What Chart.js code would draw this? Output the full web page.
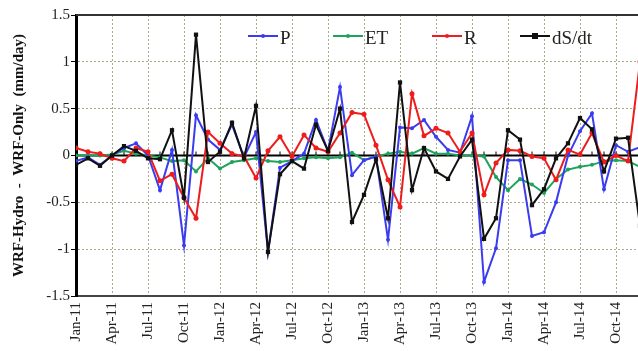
<!DOCTYPE html>
<html>
<head>
<meta charset="utf-8">
<script src="https://cdn.jsdelivr.net/npm/chart.js"></script>
<style>
html,body{margin:0;padding:0;background:#fff;overflow:hidden}
#wrap{width:660px;height:351px}
</style>
</head>
<body>
<div id="wrap"><canvas id="diffChart" width="660" height="351"></canvas></div>
<script>
// quarterly tick labels, one every 3 months starting Jan-11
const quarterLabels = ['Jan-11','Apr-11','Jul-11','Oct-11','Jan-12','Apr-12','Jul-12','Oct-12',
  'Jan-13','Apr-13','Jul-13','Oct-13','Jan-14','Apr-14','Jul-14','Oct-14']

// monthly differences, Jan-11 .. Dec-14 (mm/day)
const P = [-0.06,-0.02,-0.10,0.00,0.08,0.13,0.00,-0.37,0.06,-0.96,0.43,0.17,
  0.06,0.33,-0.02,0.25,-1.03,-0.13,-0.06,0.02,0.38,0.05,0.73,-0.21,
  -0.05,-0.01,-0.90,0.30,0.29,0.38,0.20,0.06,0.03,0.42,-1.35,-0.99,
  -0.05,-0.05,-0.86,-0.82,-0.50,0.00,0.26,0.45,-0.36,0.11,0.04,0.09]
const ET = [0.00,0.00,0.00,0.01,0.05,0.02,0.00,-0.02,-0.06,-0.05,-0.17,-0.03,
  -0.14,-0.07,-0.05,-0.03,-0.06,-0.07,-0.05,-0.03,-0.02,-0.03,-0.02,0.03,
  -0.05,-0.01,0.02,0.04,0.02,0.08,0.02,0.02,0.00,0.00,-0.01,-0.23,
  -0.37,-0.25,-0.31,-0.40,-0.25,-0.15,-0.12,-0.10,-0.06,-0.05,-0.06,-0.12]
const R = [0.08,0.04,0.02,-0.03,-0.06,0.08,0.04,-0.27,-0.20,-0.45,-0.67,0.25,
  0.13,0.02,-0.01,-0.24,0.05,0.20,-0.01,0.22,0.08,0.04,0.24,0.46,
  0.44,0.11,-0.26,-0.55,0.66,0.21,0.29,0.24,0.04,0.24,-0.42,-0.08,
  0.06,0.05,-0.01,-0.03,-0.26,0.06,0.01,0.24,-0.07,0.00,-0.06,1.00]
const dSdt = [-0.10,-0.03,-0.11,0.00,0.10,0.05,-0.03,-0.04,0.27,-0.45,1.29,-0.07,
  0.04,0.35,-0.03,0.53,-1.03,-0.20,-0.06,-0.14,0.33,0.05,0.50,-0.71,
  -0.42,-0.04,-0.67,0.78,-0.37,0.08,-0.17,-0.25,-0.01,0.17,-0.89,-0.67,
  0.27,0.17,-0.53,-0.36,-0.03,0.13,0.40,0.28,-0.17,0.18,0.19,-0.75]

const serif = 'Liberation Serif'
const gridCol = '#a9a98c'

function pts(arr){
  return arr.map((v,i)=>({x:i,y:v}))
}

function series(label,arr,color,style,radius,order){
  return {
    label:label,
    data:pts(arr),
    borderColor:color,
    backgroundColor:color,
    pointBackgroundColor:color,
    pointBorderColor:color,
    pointBorderWidth:0,
    pointStyle:style,
    pointRadius:radius,
    borderWidth:2,
    tension:0,
    order:order
  }
}

// zero line, top frame and the in-plot legend
const extras = {
  id:'extras',
  beforeDatasetsDraw(chart){
    const {ctx,chartArea:a,scales:{x,y}} = chart
    const y0 = y.getPixelForValue(0)
    ctx.save()
    ctx.strokeStyle = '#333'
    ctx.lineWidth = 2
    ctx.beginPath()
    ctx.moveTo(a.left,a.top)
    ctx.lineTo(a.right,a.top)
    ctx.stroke()
    ctx.strokeStyle = '#000'
    ctx.beginPath()
    ctx.moveTo(a.left,y0)
    ctx.lineTo(a.right,y0)
    ctx.stroke()
    ctx.lineWidth = 1
    ctx.beginPath()
    for (let i = 1; i < P.length; i++){
      const px = x.getPixelForValue(i)
      ctx.moveTo(px,y0)
      ctx.lineTo(px,y0-4)
    }
    ctx.stroke()
    ctx.restore()
  },
  afterDraw(chart){
    const ctx = chart.ctx
    const starts = [248,333,432,520]
    const ly = 36
    ctx.save()
    ctx.font = '19px "' + serif + '"'
    ctx.textBaseline = 'alphabetic'
    chart.data.datasets.forEach((ds,i)=>{
      const x0 = starts[i]
      ctx.strokeStyle = ds.borderColor
      ctx.fillStyle = ds.borderColor
      ctx.lineWidth = 2
      ctx.beginPath()
      ctx.moveTo(x0,ly)
      ctx.lineTo(x0+30,ly)
      ctx.stroke()
      if (ds.pointStyle == 'rect'){
        ctx.fillRect(x0+12,ly-3,6,6)
      } else {
        ctx.beginPath()
        ctx.arc(x0+15,ly,2,0,Math.PI*2)
        ctx.fill()
      }
      ctx.fillStyle = '#222'
      ctx.fillText(ds.label,x0+32,ly+8)
    })
    ctx.restore()
  }
}

document.addEventListener('DOMContentLoaded',()=>{

new Chart('diffChart',{
  type:'line',
  data:{
    datasets:[
      series('P',P,'#3b3bef','circle',2,2),
      series('ET',ET,'#1fa35a','circle',2,3),
      series('R',R,'#ee1c1c','circle',2.5,1),
      series('dS/dt',dSdt,'#111111','rect',3,0)
    ]
  },
  options:{
    responsive:false,
    animation:false,
    devicePixelRatio:1,
    layout:{padding:{top:15,right:20,left:0,bottom:0}},
    plugins:{legend:{display:false},tooltip:{enabled:false}},
    scales:{
      x:{
        type:'linear',
        min:0,
        max:47,
        afterFit:(s)=>{s.height = 55},
        ticks:{
          stepSize:3,
          includeBounds:false,
          autoSkip:false,
          maxRotation:90,
          minRotation:90,
          padding:2,
          color:'#222',
          font:{family:serif,size:15},
          callback:(v)=>quarterLabels[v/3]
        },
        grid:{
          color:(c)=>c.tick && c.tick.value == 0 ? 'transparent' : gridCol,
          lineWidth:1,
          drawTicks:true,
          tickLength:4,
          tickColor:'transparent'
        },
        border:{display:true,color:'#444',width:2,dash:[2,2]}
      },
      y:{
        min:-1.5,
        max:1.5,
        afterFit:(s)=>{s.width = 76},
        ticks:{
          stepSize:0.5,
          padding:1,
          color:'#222',
          font:{family:serif,size:15},
          callback:(v)=>String(Math.round(v*10)/10)
        },
        grid:{
          color:(c)=>{
            const v = c.tick ? c.tick.value : 0
            return (v == 0 || Math.abs(v) == 1.5) ? 'transparent' : gridCol
          },
          lineWidth:1,
          drawTicks:true,
          tickLength:5,
          tickColor:'#000'
        },
        border:{display:true,color:'#000',width:3,dash:[2,2]},
        title:{
          display:true,
          text:'WRF-Hydro  -  WRF-Only  (mm/day)',
          color:'#111',
          font:{family:serif,size:15,weight:'bold'},
          padding:{top:10,bottom:0}
        }
      }
    }
  },
  plugins:[extras]
})

})
</script>
</body>
</html>
